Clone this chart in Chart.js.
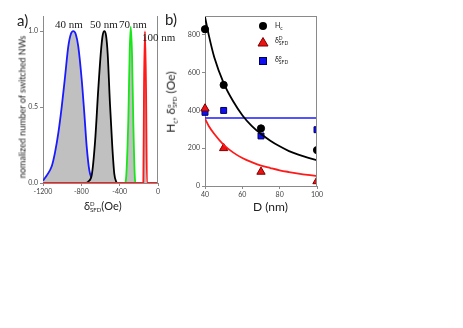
<!DOCTYPE html>
<html>
<head>
<meta charset="utf-8">
<script src="https://cdn.jsdelivr.net/npm/chart.js@4"></script>
<style>
body{margin:0;width:463px;height:328px;background:#fff;position:relative;overflow:hidden;font-family:Lato,sans-serif;color:#222}
canvas{position:absolute}
.t{position:absolute;white-space:nowrap;line-height:1}
.st{display:inline-block;vertical-align:middle;font-size:6px;line-height:6px;text-align:left}
.st span{display:block}
.nm{font-family:"Liberation Serif",serif;font-size:11px}
</style>
</head>
<body>
<canvas id="ca" width="170" height="200" style="left:0;top:0"></canvas>
<canvas id="cb" width="175" height="200" style="left:160px;top:0"></canvas>

<div class="t" style="left:17px;top:13px;font-size:15px">a)</div>
<div class="t" style="left:165px;top:12px;font-size:15px">b)</div>

<div class="t nm" style="left:55px;top:19px">40 nm</div>
<div class="t nm" style="left:90px;top:19px">50 nm</div>
<div class="t nm" style="left:119px;top:19px">70 nm</div>
<div class="t nm" style="left:142px;top:32px">100 nm</div>

<div class="t" style="left:22px;top:107px;font-size:9px;transform:translate(-50%,-50%) rotate(-90deg)">nomalized number of switched NWs</div>
<div class="t" style="left:84px;top:200px;font-size:11px">δ<span class="st"><span>D</span><span>SFD</span></span>(Oe)</div>

<div class="t" style="left:172px;top:102px;font-size:12px;transform:translate(-50%,-50%) rotate(-90deg)">H<sub style="font-size:7px">c</sub>, δ<span class="st"><span>o</span><span>SFD</span></span> (Oe)</div>
<div class="t" style="left:253px;top:201px;font-size:12px">D (nm)</div>

<div class="t" style="left:275px;top:22px;font-size:7px">H<sub style="font-size:5px">c</sub></div>
<div class="t" style="left:275px;top:36px;font-size:7px">δ<span class="st" style="font-size:5px;line-height:5px"><span>D</span><span>SFD</span></span></div>
<div class="t" style="left:275px;top:55px;font-size:7px">δ<span class="st" style="font-size:5px;line-height:5px"><span>o</span><span>SFD</span></span></div>

<script>
// panel a: switching field distributions
const blueX = [-1200, -1161, -1109, -1075, -1040, -1005, -970, -936, -910, -884, -858, -832, -796, -769, -744, -717, -692, -675];
const blueY = [0.015, 0.05, 0.11, 0.2, 0.33, 0.5, 0.7, 0.9, 0.98, 1.0, 0.98, 0.9, 0.68, 0.46, 0.24, 0.085, 0.03, 0.0];
const blackX = [-745, -727, -692, -657, -623, -595, -578, -560, -542, -525, -501, -477, -456, -431];
const blackY = [0, 0.01, 0.05, 0.27, 0.62, 0.87, 0.97, 1.0, 0.97, 0.85, 0.52, 0.24, 0.06, 0];
const greenX = [-345, -337, -310, -296, -285, -271, -258, -240, -232];
const greenY = [0, 0.01, 0.41, 0.85, 1.03, 0.85, 0.41, 0.02, 0];
const redX = [-1200, -153, -146, -136, -125, -115, 0];
const redY = [0, 0, 0.63, 1.0, 0.63, 0, 0];
const xTicksA = [-1200, -800, -400, 0];
const yTicksA = [0, 0.5, 1.0];

// panel b: coercivity and SFD vs diameter
const dVals = [40, 50, 70, 100];
const hcVals = [830, 535, 305, 190];
const sfdDVals = [410, 200, 75, 25];
const sfdOVals = [390, 400, 265, 298];
const hcFitD = [40, 42, 45, 50, 55, 60, 65, 70, 75, 80, 85, 90, 95, 100];
const hcFitV = [895, 800, 680, 545, 450, 375, 318, 275, 240, 210, 185, 166, 150, 137];
const redFitD = [40, 42, 45, 50, 55, 60, 65, 70, 75, 80, 85, 90, 95, 100];
const redFitV = [356, 318, 275, 218, 178, 148, 126, 108, 95, 83, 74, 66, 59, 53];
const blueFitD = [40, 100];
const blueFitV = [360, 360];
const xTicksB = [40, 60, 80, 100];
const yTicksB = [0, 200, 400, 600, 800];

Chart.defaults.font.family = 'Lato';
Chart.defaults.color = '#333';

const toPts = (xs, ys) => xs.map((x, i) => ({x: x, y: ys[i]}));
const axisGray = '#8a8a8a';

const framePlugin = {
  id: 'frame',
  afterDraw(chart, args, opts) {
    const {ctx, chartArea: a} = chart;
    ctx.save();
    ctx.strokeStyle = axisGray;
    ctx.lineWidth = 1;
    ctx.beginPath();
    if (opts.top) { ctx.moveTo(a.left, a.top + 0.5); ctx.lineTo(a.right, a.top + 0.5); }
    if (opts.right) { ctx.moveTo(a.right - 0.5, a.top); ctx.lineTo(a.right - 0.5, a.bottom); }
    ctx.stroke();
    ctx.restore();
  }
};

function axis(min, max, ticks, fmt, size, isX) {
  return {
    type: 'linear', min: min, max: max,
    afterBuildTicks: s => { s.ticks = ticks.map(v => ({value: v})); },
    afterFit: s => { if (isX) s.height = size; else s.width = size; },
    grid: {display: true, drawOnChartArea: false, drawTicks: true, tickLength: 3, color: axisGray},
    border: {display: true, color: axisGray, width: 1},
    ticks: {font: {size: 7}, color: '#444', padding: 2, callback: fmt, maxRotation: 0, autoSkip: false}
  };
}

function curve(xs, ys, color, width, fill) {
  return {
    data: toPts(xs, ys), borderColor: color, borderWidth: width,
    backgroundColor: '#c0c0c0', fill: fill ? 'origin' : false,
    pointRadius: 0, cubicInterpolationMode: 'monotone'
  };
}

new Chart(document.getElementById('ca'), {
  type: 'line',
  data: {
    datasets: [
      curve(redX, redY, '#ff1a1a', 1.8, true),
      curve(greenX, greenY, '#19e619', 1.8, true),
      curve(blackX, blackY, '#000', 1.8, true),
      curve(blueX, blueY, '#1a1aff', 1.8, true)
    ]
  },
  options: {
    responsive: false, devicePixelRatio: 1, animation: false,
    layout: {autoPadding: false, padding: {left: 23, right: 12, top: 16, bottom: 0}},
    scales: {
      x: axis(-1200, 0, xTicksA, v => v, 17, true),
      y: axis(0, 1.1, yTicksA, v => v.toFixed(1), 20, false)
    },
    plugins: {legend: {display: false}, tooltip: {enabled: false}, frame: {right: true}}
  },
  plugins: [framePlugin]
});

const legendMarks = {
  id: 'legendMarks',
  afterDraw(chart) {
    const ctx = chart.ctx;
    ctx.save();
    ctx.fillStyle = '#000';
    ctx.beginPath(); ctx.arc(103, 26, 4, 0, Math.PI * 2); ctx.fill();
    ctx.fillStyle = '#ee1111'; ctx.strokeStyle = '#7a0000'; ctx.lineWidth = 1;
    ctx.beginPath(); ctx.moveTo(103, 37.5); ctx.lineTo(108, 46); ctx.lineTo(98, 46); ctx.closePath(); ctx.fill(); ctx.stroke();
    ctx.fillStyle = '#1010ee'; ctx.strokeStyle = '#000060';
    ctx.fillRect(99.5, 57.5, 7, 7); ctx.strokeRect(99.5, 57.5, 7, 7);
    ctx.restore();
  }
};

const clipRight = {left: 10, top: 10, right: 0, bottom: 10};

new Chart(document.getElementById('cb'), {
  type: 'scatter',
  data: {
    datasets: [
      {type: 'line', data: toPts(hcFitD, hcFitV), borderColor: '#000', borderWidth: 1.8, pointRadius: 0, cubicInterpolationMode: 'monotone'},
      {type: 'line', data: toPts(redFitD, redFitV), borderColor: '#ff1a1a', borderWidth: 1.8, pointRadius: 0, cubicInterpolationMode: 'monotone'},
      {type: 'line', data: toPts(blueFitD, blueFitV), borderColor: '#1a1aff', borderWidth: 1.5, pointRadius: 0},
      {data: toPts(dVals, hcVals), pointStyle: 'circle', pointRadius: 3.6, backgroundColor: '#000', borderColor: '#000', clip: clipRight},
      {data: toPts(dVals, sfdDVals), pointStyle: 'triangle', pointRadius: 4.8, backgroundColor: '#ee1111', borderColor: '#7a0000', borderWidth: 1, clip: clipRight},
      {data: toPts(dVals, sfdOVals), pointStyle: 'rect', pointRadius: 4.2, backgroundColor: '#1010ee', borderColor: '#000060', borderWidth: 1, clip: clipRight}
    ]
  },
  options: {
    responsive: false, devicePixelRatio: 1, animation: false,
    layout: {autoPadding: false, padding: {left: 25, right: 18, top: 16, bottom: 0}},
    scales: {
      x: axis(40, 100, xTicksB, v => v, 14, true),
      y: axis(0, 900, yTicksB, v => v, 20, false)
    },
    plugins: {legend: {display: false}, tooltip: {enabled: false}, frame: {top: true, right: true}}
  },
  plugins: [framePlugin, legendMarks]
});
</script>
</body>
</html>
